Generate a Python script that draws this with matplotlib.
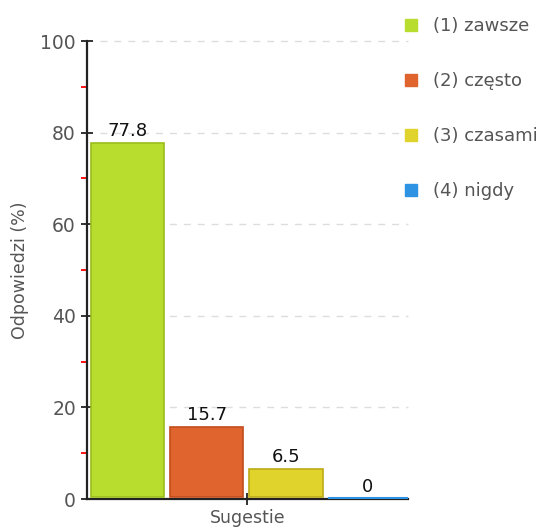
import matplotlib
matplotlib.use("Agg")
import matplotlib.pyplot as plt
from matplotlib.lines import Line2D
import numpy as np

# dane ankiety
kategorie = ['(1) zawsze', '(2) często', '(3) czasami', '(4) nigdy']
wartosci = [77.8, 15.7, 6.5, 0.0]
etykiety = ['77.8', '15.7', '6.5', '0']
kolory = ['#b9dd2f', '#e0642e', '#e0d42c', '#2f93e3']
krawedzie = ['#9bbd1c', '#c24c1c', '#bcab18', '#2f93e3']

pozycje = [0.505, 1.49, 2.48, 3.5]
szerokosci = [0.91, 0.91, 0.92, 0.99]
podstawa = 0.4

szary = '#555555'

fig = plt.figure(figsize=(5.52, 5.28), dpi=100)
ax = fig.add_axes([0.1576, 0.0549, 0.5815, 0.8674])

for x, w, v, c, e, t in zip(pozycje, szerokosci, wartosci, kolory, krawedzie, etykiety):
    if v > 0:
        ax.bar(x, v - podstawa, width=w, bottom=podstawa, color=c, edgecolor=e,
               linewidth=1.2, zorder=3)
    else:
        ax.bar(x, 0.5, width=w, bottom=0.0, color=c, edgecolor=c, linewidth=0.8, zorder=3)
    ax.text(x, v + 0.6, t, ha='center', va='bottom', fontsize=13, color='#111111', zorder=4)

ax.set_xlim(0, 4)
ax.set_ylim(0, 100)

ax.set_yticks(np.arange(0, 101, 20))
ax.set_yticks(np.arange(10, 100, 20), minor=True)
ax.set_xticks([2])
ax.set_xticklabels([''])

ax.tick_params(axis='y', which='major', direction='inout', length=8, width=1.3,
               color='#222222', labelcolor=szary, labelsize=13.5, pad=4)
ax.tick_params(axis='y', which='minor', direction='out', length=4.5, width=1.3, color='red')
ax.tick_params(axis='x', which='major', direction='inout', length=8, width=1.3,
               color='#222222', pad=1)

for s in ['top', 'right']:
    ax.spines[s].set_visible(False)
for s in ['left', 'bottom']:
    ax.spines[s].set_linewidth(1.6)
    ax.spines[s].set_color('#222222')

# przerywane linie siatki zaczynają się trochę na prawo od osi
ax.hlines(np.arange(20, 101, 20), 0.16, 4, colors='#dddddd', linewidth=1.0,
          linestyles=(0, (5, 5)), zorder=0, clip_on=False)

ax.set_ylabel('Odpowiedzi (%)', color=szary, fontsize=12.5, labelpad=8)
ax.set_xlabel('Sugestie', color=szary, fontsize=12.5, labelpad=2.5)

uchwyty = [Line2D([0], [0], marker='s', linestyle='none', markersize=8,
                  markerfacecolor=c, markeredgecolor=c) for c in kolory]
ax.legend(uchwyty, kategorie, loc='upper left', bbox_to_anchor=(0.728, 0.968),
          bbox_transform=fig.transFigure, frameon=False, fontsize=13,
          labelcolor=szary, handlelength=1.0, handletextpad=0.7, labelspacing=2.05,
          borderaxespad=0, borderpad=0)

fig.savefig('out.png', dpi=100)
